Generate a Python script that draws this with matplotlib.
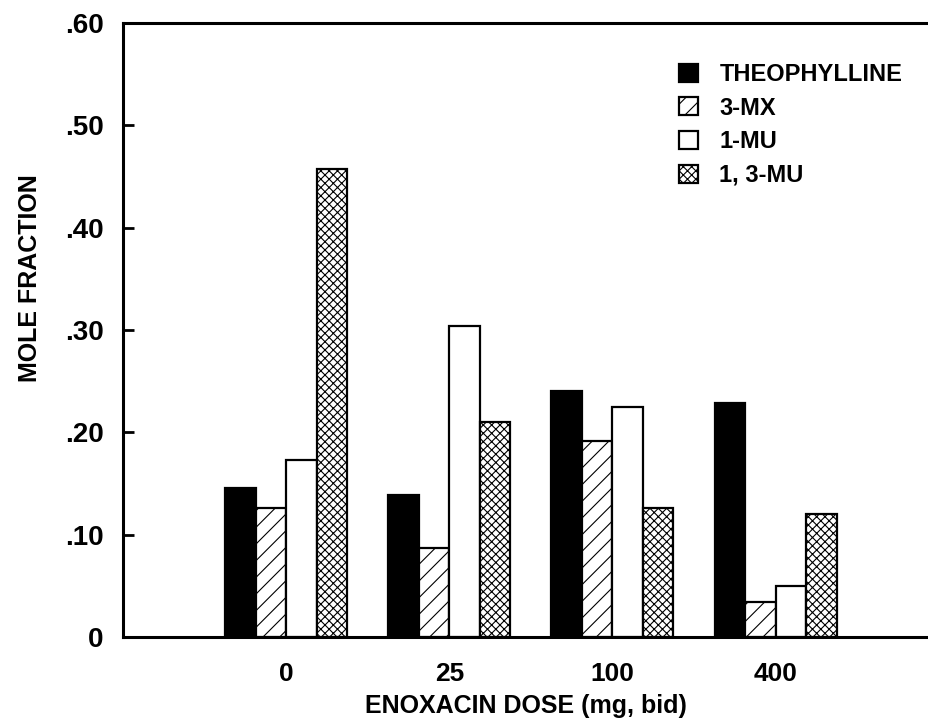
import numpy as np
import matplotlib
matplotlib.use('Agg')
import matplotlib.pyplot as plt

plt.rcParams['font.family'] = ['Liberation Sans', 'DejaVu Sans']
plt.rcParams['hatch.linewidth'] = 0.8

doses = ['0', '25', '100', '400']
theophylline = [0.146, 0.139, 0.240, 0.229]
mx3 = [0.126, 0.087, 0.192, 0.034]
mu1 = [0.173, 0.304, 0.225, 0.050]
mu13 = [0.457, 0.210, 0.126, 0.120]

series = ['THEOPHYLLINE', '3-MX', '1-MU', '1, 3-MU']
yticks = [0, 0.1, 0.2, 0.3, 0.4, 0.5, 0.6]
ytick_labels = ['0', '.10', '.20', '.30', '.40', '.50', '.60']

fig = plt.figure(figsize=(9.29, 7.27), dpi=100)
ax = fig.add_axes([0.1324, 0.1238, 0.8676, 0.8446])

x = np.arange(len(doses))
w = 0.187
styles = [dict(color='black', edgecolor='black'),
          dict(color='white', edgecolor='black', hatch='//'),
          dict(color='white', edgecolor='black'),
          dict(color='white', edgecolor='black', hatch='xxxx')]
for i, (vals, st) in enumerate(zip([theophylline, mx3, mu1, mu13], styles)):
    ax.bar(x + (i - 1.5) * w, vals, w, linewidth=1.6, label=series[i], **st)

ax.set_xlim(-1.0, 3.94)
ax.set_ylim(0, 0.6)

for s in ['left', 'bottom', 'top']:
    ax.spines[s].set_linewidth(2.2)
ax.spines['right'].set_visible(False)

ax.set_yticks(yticks)
ax.set_yticklabels(ytick_labels, fontsize=20, fontweight='bold')
ax.tick_params(axis='y', direction='in', length=8, width=2, pad=14)
ax.set_xticks(x)
ax.set_xticklabels(doses, fontsize=19, fontweight='bold')
ax.tick_params(axis='x', length=0, pad=18)

ax.set_xlabel('ENOXACIN DOSE (mg, bid)', fontsize=18, fontweight='bold', labelpad=6)
ax.set_ylabel('MOLE FRACTION', fontsize=18, fontweight='bold')
ax.yaxis.set_label_coords(-0.101, 0.585)

ax.legend(loc='upper left', bbox_to_anchor=(0.69, 0.935), frameon=False,
          prop={'size': 17, 'weight': 'bold'}, handlelength=0.8, handleheight=0.8,
          handletextpad=0.9, labelspacing=0.45, borderpad=0, borderaxespad=0)

plt.savefig('out.png', dpi=100)
